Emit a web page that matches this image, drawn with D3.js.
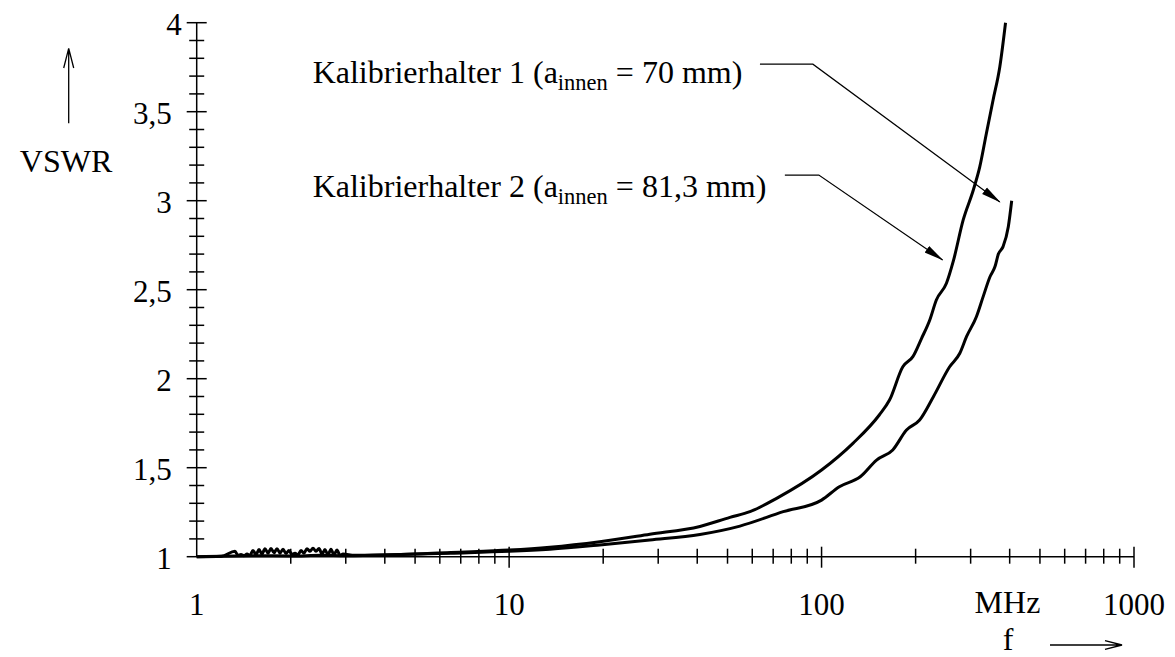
<!DOCTYPE html>
<html lang="de">
<head>
	<meta charset="utf-8">
	<title> VSWR Kalibrierhalter </title>
	<script src="https://d3js.org/d3.v7.min.js"></script>
	<style type="text/css">
		body{ margin: 0; background-color: #ffffff; }
		svg{ display: block; }
	</style>
</head>
<body>
	<svg id="chart" width="1175" height="657" font-family="'Liberation Serif', 'DejaVu Serif', serif"></svg>

	<script type="text/javascript">

	// Kalibrierhalter 1 (a_innen = 70 mm), f in MHz / VSWR
	var freqHalter1 = [1, 1.5, 2, 2.5, 3, 4.5, 6.5, 10, 13.5, 19.5, 28.2, 40.8, 54.8, 75.4, 100,
		114, 133, 150, 169, 187, 206, 228, 257, 277, 291, 313, 329, 346, 359, 368, 381, 396, 406]
	var vswrHalter1 = [1.0, 1.006, 1.004, 1.008, 1.006, 1.012, 1.02, 1.03, 1.042, 1.066, 1.094, 1.125, 1.172, 1.253, 1.318,
		1.393, 1.449, 1.543, 1.6, 1.712, 1.768, 1.899, 2.067, 2.143, 2.236, 2.348, 2.461, 2.573, 2.63, 2.7, 2.742, 2.854, 3.0]

	// Kalibrierhalter 2 (a_innen = 81,3 mm), with the ripple between 1.3 and 3 MHz
	var freqHalter2 = [1, 1.2,
		1.326, 1.356, 1.386, 1.417, 1.449, 1.481, 1.514, 1.548, 1.583, 1.618,
		1.654, 1.691, 1.729, 1.768, 1.807, 1.848, 1.889, 1.931, 1.974, 2.018,
		2.064, 2.11, 2.157, 2.205, 2.254, 2.305, 2.356, 2.409, 2.463, 2.518,
		2.574, 2.631, 2.69, 2.75, 2.812, 2.874, 2.939,
		3.2, 4.5, 6.5, 10, 13.5, 19.5, 28.2, 40.8, 50.9, 59, 71.8,
		100, 126, 153, 165, 182, 196, 209, 222, 233, 251, 264, 284, 306, 321, 337, 354, 372, 388]
	var vswrHalter2 = [1.0, 1.003,
		1.03, 1.008, 1.012, 1.006, 1.015, 1.008, 1.035, 1.012, 1.04, 1.015,
		1.045, 1.02, 1.046, 1.022, 1.045, 1.02, 1.042, 1.018, 1.035, 1.012,
		1.02, 1.01, 1.035, 1.02, 1.045, 1.03, 1.048, 1.03, 1.046, 1.015,
		1.04, 1.01, 1.042, 1.01, 1.038, 1.008, 1.015,
		1.008, 1.012, 1.024, 1.037, 1.053, 1.084, 1.126, 1.17, 1.221, 1.253, 1.328,
		1.487, 1.637, 1.796, 1.88, 2.067, 2.124, 2.227, 2.33, 2.442, 2.536, 2.66, 2.892, 3.06, 3.191, 3.379, 3.566, 3.753, 4.0]

	// tick labels
	var yTicks = [1, 1.5, 2, 2.5, 3, 3.5, 4]
	var yTickLabels = ["1", "1,5", "2", "2,5", "3", "3,5", "4"]
	var xTicks = [1, 10, 100, 1000]
	var xTickLabels = ["1", "10", "100", "1000"]

	// Init window size
	var margin = {top: 22.7, bottom: 100.3, left: 196.7, right: 41}
	var svgW = 1175, svgH = 657
	var width = svgW - margin.left - margin.right
	var height = svgH - margin.top - margin.bottom
	var numSize = 31
	var wordSize = 32

	var svg = d3.select("#chart")

	var x = d3.scaleLog().domain([1, 1000]).range([margin.left, margin.left + width])
	var y = d3.scaleLinear().domain([1, 4]).range([margin.top + height, margin.top])

	var line = d3.line()
		.curve(d3.curveMonotoneX)
		.x(d => x(d[0]))
		.y(d => y(d[1]))

	// arrowhead for the leader lines
	svg.append("defs").append("marker")
		.attr("id", "head")
		.attr("markerUnits", "userSpaceOnUse")
		.attr("markerWidth", 20).attr("markerHeight", 10)
		.attr("viewBox", "0 0 20 10")
		.attr("refX", 19).attr("refY", 5)
		.attr("orient", "auto")
		.append("path")
		.attr("d", "M0,1 L20,5 L0,9 Z")
		.attr("fill", "#000")

	// axes
	var axis = svg.append("g").attr("stroke", "#000").attr("stroke-width", 1.5).attr("fill", "none")
	axis.append("line")
		.attr("x1", x(1)).attr("x2", x(1))
		.attr("y1", y(1)).attr("y2", y(4))
	axis.append("line")
		.attr("x1", x(1)).attr("x2", x(1000))
		.attr("y1", y(1)).attr("y2", y(1))

	var yMinor = d3.range(10, 41).map(d => d / 10)
	axis.selectAll(".ytick")
		.data(yMinor)
		.join("line")
		.attr("class", "ytick")
		.attr("x1", d => x(1) - (d * 2 % 1 === 0 ? 10 : 7.5))
		.attr("x2", d => x(1) + (d * 2 % 1 === 0 ? 10 : 7.5))
		.attr("y1", d => y(d)).attr("y2", d => y(d))

	var xMinor = [1, 10, 100].flatMap(dec => d3.range(2, 10).map(k => k * dec))
	axis.selectAll(".xtick")
		.data(xMinor)
		.join("line")
		.attr("class", "xtick")
		.attr("x1", d => x(d)).attr("x2", d => x(d))
		.attr("y1", y(1) - 8).attr("y2", y(1) + 7)
	axis.selectAll(".xmajor")
		.data(xTicks.slice(1))
		.join("line")
		.attr("class", "xmajor")
		.attr("x1", d => x(d)).attr("x2", d => x(d))
		.attr("y1", y(1) - 10).attr("y2", y(1) + 11)

	// tick labels
	svg.append("g")
		.selectAll("text")
		.data(yTicks)
		.join("text")
		.attr("x", d => x(1) - 25 + (d === 4 ? 10 : 0))
		.attr("y", d => y(d) + 12)
		.attr("text-anchor", "end")
		.attr("font-size", numSize)
		.text((d, i) => yTickLabels[i])

	svg.append("g")
		.selectAll("text")
		.data(xTicks)
		.join("text")
		.attr("x", d => x(d))
		.attr("y", y(1) + 58)
		.attr("text-anchor", "middle")
		.attr("font-size", numSize)
		.text((d, i) => xTickLabels[i])

	svg.append("text")
		.attr("x", 1007.5).attr("y", y(1) + 56)
		.attr("text-anchor", "middle")
		.attr("font-size", wordSize)
		.text("MHz")

	// axis names with arrows
	svg.append("text")
		.attr("x", 1008).attr("y", 650)
		.attr("text-anchor", "middle")
		.attr("font-size", wordSize)
		.text("f")
	svg.append("path")
		.attr("d", "M1050,645 L1122,645 M1105,640.7 L1122,645 L1105,649.3")
		.attr("fill", "none").attr("stroke", "#000").attr("stroke-width", 1.3)

	svg.append("text")
		.attr("x", 66).attr("y", 171.7)
		.attr("text-anchor", "middle")
		.attr("font-size", wordSize)
		.text("VSWR")
	svg.append("path")
		.attr("d", "M68.7,123.3 L68.7,48.3 M63.7,68 L68.7,48.3 L73.7,68")
		.attr("fill", "none").attr("stroke", "#000").attr("stroke-width", 1.3)

	// curves
	var series = [
		d3.zip(freqHalter1, vswrHalter1),
		d3.zip(freqHalter2, vswrHalter2)
	]
	svg.append("g")
		.attr("fill", "none")
		.attr("stroke", "#000")
		.attr("stroke-width", 3)
		.attr("stroke-linejoin", "round")
		.selectAll("path")
		.data(series)
		.join("path")
		.attr("d", line)

	// labels with leader lines (positions in data coords: f, VSWR)
	var notes = [
		{name: "1", a: "70 mm", text: [2.35, 3.66], start: [63.5, 3.767], elbow: [93.8, 3.767], tip: [372, 2.993]},
		{name: "2", a: "81,3 mm", text: [2.35, 3.022], start: [76.3, 3.144], elbow: [98, 3.144], tip: [244, 2.667]}
	]

	notes.forEach(function(n){
		var t = svg.append("text")
			.attr("x", x(n.text[0]))
			.attr("y", y(n.text[1]))
			.attr("font-size", wordSize)
		t.append("tspan").text("Kalibrierhalter " + n.name + " (a")
		t.append("tspan").attr("font-size", 22.5).attr("dy", 7).text("innen")
		t.append("tspan").attr("dy", -7).text(" = " + n.a + ")")

		svg.append("path")
			.attr("d", d3.line()([n.start, n.elbow, n.tip].map(p => [x(p[0]), y(p[1])])))
			.attr("fill", "none")
			.attr("stroke", "#000")
			.attr("stroke-width", 1.2)
			.attr("marker-end", "url(#head)")
	})

	</script>
</body>
</html>
